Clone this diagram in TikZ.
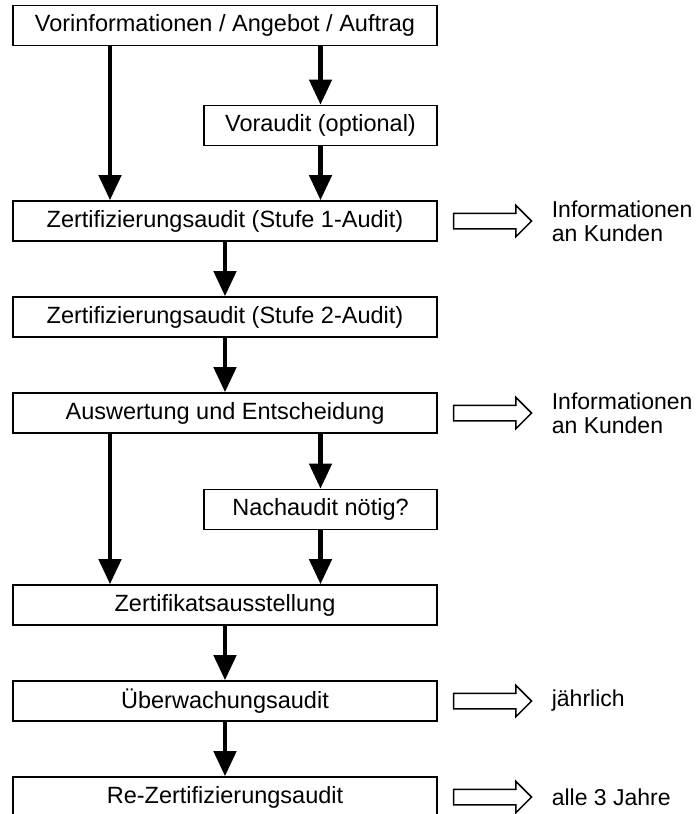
\documentclass[tikz,border=0pt]{standalone}
\usepackage{fontspec}
\setmainfont{Liberation Sans}
\usetikzlibrary{arrows.meta,shapes.arrows,positioning}

\tikzset{
  box/.style={draw, line width=1.6pt, minimum width=424pt, minimum height=40pt, inner sep=0pt, font=\fontsize{23.5}{24}\selectfont},
  subbox/.style={box, minimum width=233pt},
  flow/.style={line width=4.5pt, -{Triangle[width=22pt,length=25pt]}},
  hollow/.style={single arrow, draw, line width=1.5pt, inner xsep=0pt, inner ysep=7pt, single arrow head extend=8pt, minimum height=78pt},
  note/.style={anchor=west, align=left, inner sep=0pt, font=\fontsize{23}{24}\selectfont}
}

\begin{document}
\begin{tikzpicture}[x=1pt,y=-1pt]
		\useasboundingbox (0,0) rectangle (696,814);
		\node[box] (anfrage) at (225,25.5) {Vorinformationen / Angebot / Auftrag};
        \node[subbox] (voraudit) at (320.5,125.5) {Voraudit (optional)};
        \node[box] (stufeeins) at (225,221) {Zertifizierungsaudit (Stufe 1-Audit)};
        \node[box] (stufezwei) at (225,317) {Zertifizierungsaudit (Stufe 2-Audit)};
        \node[box] (auswertung) at (225,413) {Auswertung und Entscheidung};
        \node[subbox] (nachaudit) at (320.5,509.5) {Nachaudit nötig?};
        \node[box] (zertifikat) at (225,605) {Zertifikatsausstellung};
        \node[box] (ueberwachung) at (225,701) {Überwachungsaudit};
        \node[box] (rezert) at (225,797) {Re-Zertifizierungsaudit};
        \draw[flow] ([xshift=-115pt]anfrage.south) -- ([xshift=-115pt]anfrage.south |- stufeeins.north);
        \draw[flow] (anfrage.south -| voraudit) -- (voraudit.north);
        \draw[flow] (voraudit.south) -- (voraudit.south |- stufeeins.north);
        \draw[flow] (stufeeins.south) -- (stufezwei.north);
        \draw[flow] (stufezwei.south) -- (auswertung.north);
        \draw[flow] ([xshift=-115pt]auswertung.south) -- ([xshift=-115pt]auswertung.south |- zertifikat.north);
        \draw[flow] (auswertung.south -| nachaudit) -- (nachaudit.north);
        \draw[flow] (nachaudit.south) -- (nachaudit.south |- zertifikat.north);
        \draw[flow] (zertifikat.south) -- (ueberwachung.north);
        \draw[flow] (ueberwachung.south) -- (rezert.north);
        % Hinweise rechts
        \node[hollow, anchor=west, right=15pt of stufeeins] (pfeileins) {};
        \node[note, right=19pt of pfeileins] {Informationen\\an Kunden};
        \node[hollow, anchor=west, right=15pt of auswertung] (pfeilzwei) {};
        \node[note, right=19pt of pfeilzwei] {Informationen\\an Kunden};
        \node[hollow, anchor=west, right=15pt of ueberwachung] (pfeildrei) {};
        \node[note, right=19pt of pfeildrei] {jährlich};
        \node[hollow, anchor=west, right=15pt of rezert] (pfeilvier) {};
        \node[note, right=19pt of pfeilvier] {alle 3 Jahre};
	\end{tikzpicture}
\end{document}
